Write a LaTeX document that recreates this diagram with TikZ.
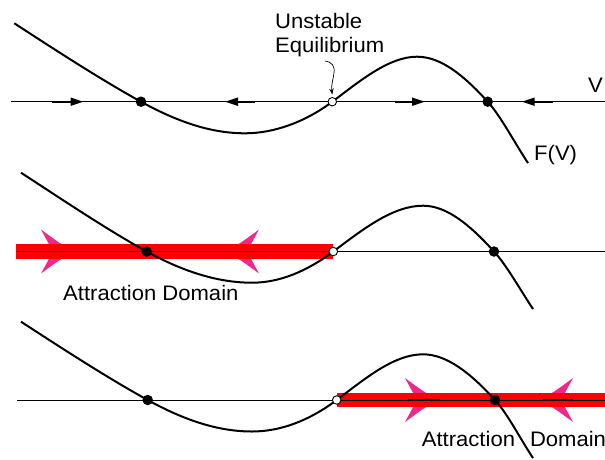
\documentclass[tikz,border=0pt]{standalone}
\usepackage{fontspec}
\newfontfamily\labfont{Liberation Sans}[FakeStretch=1.05]
\usetikzlibrary{arrows.meta}
\definecolor{barred}{RGB}{255,0,0}
\definecolor{pinkhd}{RGB}{240,40,140}
\begin{document}
\begin{tikzpicture}[x=1pt,y=-1pt,
  curve/.style={line width=2pt, line join=round},
  axis/.style={line width=0.8pt},
  stable/.style={circle, fill=black, inner sep=0pt, minimum size=10.5pt},
  unstable/.style={circle, draw=black, fill=white, line width=0.9pt, inner sep=0pt, minimum size=8.5pt},
  lab/.style={font=\labfont\fontsize{21}{24}\selectfont, inner sep=0pt, anchor=base west},
  flow/.style={line width=1.8pt, -{Triangle[length=13pt,width=8pt]}},
  shaft/.style={line width=1.8pt},
  bar/.style={line width=14.5pt, draw=barred},
  pinkhead/.pic={\fill[pinkhd] (0,-22) .. controls (19,-8) .. (34,0) .. controls (19,8) .. (0,22) -- (12,0) -- cycle;}
]
\useasboundingbox (0,0) rectangle (605,459);

% ---------- positions of equilibria ----------
\coordinate (p1a) at (141,101.7);
\coordinate (p1u) at (332.3,101.7);
\coordinate (p1b) at (487.7,101.7);
\coordinate (p2a) at (146.7,251.5);
\coordinate (p2u) at (333.3,251.5);
\coordinate (p2b) at (494,251.5);
\coordinate (p3a) at (147.7,400);
\coordinate (p3u) at (336.7,400);
\coordinate (p3b) at (495,400);

% ---------- panel 2 and 3 attraction domains ----------
\pic at (41,251.5) {pinkhead};
\pic[xscale=-1] at (259,251.5) {pinkhead};
\pic at (405,400) {pinkhead};
\pic[xscale=-1] at (573,400) {pinkhead};
\coordinate (bar2l) at (16,251.5);
\coordinate (bar3r) at (605,400);
\draw[bar] (bar2l) -- (p2u);
\draw[bar] (p3u) -- (bar3r);

% ---------- axes ----------
\coordinate (ax1l) at (11,101.7);  \coordinate (ax1r) at (605,101.7);
\coordinate (ax2l) at (17,251.5);  \coordinate (ax2r) at (605,251.5);
\coordinate (ax3l) at (17,400);    \coordinate (ax3r) at (605,400);
\draw[axis] (ax1l) -- (ax1r);
\draw[axis] (ax2l) -- (ax2r);
\draw[axis] (ax3l) -- (ax3r);

% ---------- flow arrows (panel 1) ----------
\draw[flow] (52,101.7) -- (83.5,101.7);
\draw[flow] (255,101.7) -- (225,101.7);
\draw[flow] (395,101.7) -- (425,101.7);
\draw[flow] (553,101.7) -- (521.7,101.7);
% shafts in panel 3
\draw[shaft] (408,400) -- (440,400);
\draw[shaft] (543,400) -- (573,400);

% ---------- curves F(V) ----------
\draw[curve] (14.3,23.3) .. controls +(40,26) and +(-40,-22) .. (p1a)
  .. controls +(35,19.3) and +(-35,0) .. (245,133.3)
  .. controls +(29,0) and +(-27,20.25) .. (p1u)
  .. controls +(28,-21) and +(-28,0) .. (417,56.7)
  .. controls +(24,0) and +(-24,-26.4) .. (p1b)
  .. controls +(13,14.3) and +(-13,-19.5) .. (528,163);
\draw[curve] (21,172.7) .. controls +(40,26) and +(-40,-22) .. (p2a)
  .. controls +(35,19.3) and +(-35,0) .. (252,282.7)
  .. controls +(27,0) and +(-27,20.25) .. (p2u)
  .. controls +(30,-22.5) and +(-30,0) .. (423,205.7)
  .. controls +(24,0) and +(-24,-26.4) .. (p2b)
  .. controls +(13,14.3) and +(-13,-19.5) .. (533,309);
\draw[curve] (21,321.7) .. controls +(40,26) and +(-40,-22) .. (p3a)
  .. controls +(35,19.3) and +(-35,0) .. (252,431.5)
  .. controls +(28,0) and +(-28,21) .. (p3u)
  .. controls +(29,-21.75) and +(-29,0) .. (423,354.3)
  .. controls +(24,0) and +(-24,-26.4) .. (p3b)
  .. controls +(13,14.3) and +(-13,-19.5) .. (533,458);

% ---------- equilibria ----------
\node[stable] (s1a) at (p1a) {};
\node[unstable] (uo1) at (p1u) {};
\node[stable] (s1b) at (p1b) {};
\node[stable] (s2a) at (p2a) {};
\node[unstable] (uo2) at (p2u) {};
\node[stable] (s2b) at (p2b) {};
\node[stable] (s3a) at (p3a) {};
\node[unstable] (uo3) at (p3u) {};
\node[stable] (s3b) at (p3b) {};

% ---------- labels ----------
\node[lab] (ulab1) at (275,28) {Unstable};
\node[lab] (ulab2) at (275,52) {Equilibrium};
\node[lab] (vlab) at (588,92.5) {V};
\node[lab] (flab) at (534,160) {F(V)};
\node[lab] (dom2) at (63,300) {Attraction Domain};
\node[lab] (dom3) at (421.7,446) {Attraction\hspace{15pt}Domain};

\coordinate (leadstart) at (325,61);
\draw[line width=0.7pt, -{Stealth[length=6pt,width=4.5pt]}] (leadstart) .. controls (332,62) and (335,66) .. (334,73) .. controls (333,80) and (331,86) .. ([yshift=2.5pt]uo1.north);
\end{tikzpicture}
\end{document}
